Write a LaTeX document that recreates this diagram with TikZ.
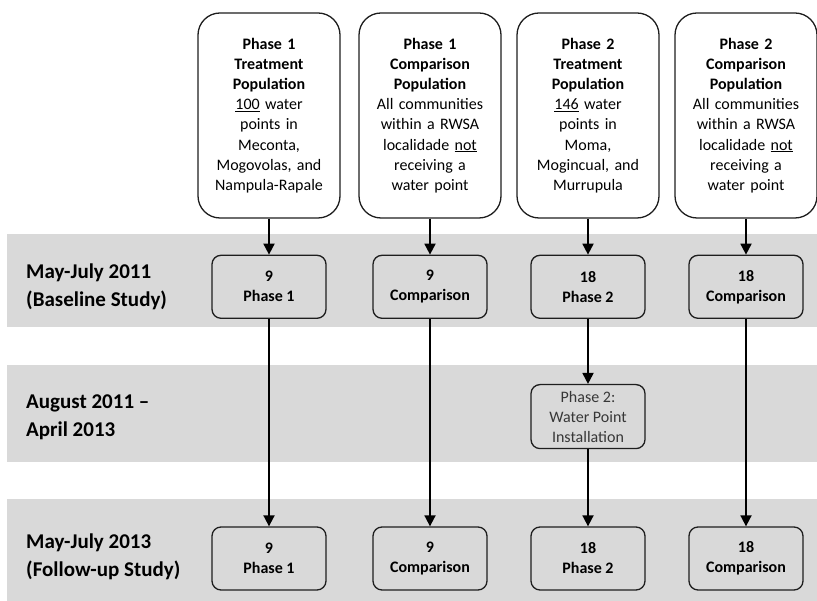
\documentclass[tikz,border=0pt]{standalone}
\usepackage{fontspec}
\setmainfont{Carlito}
\usepackage{tikz}
\usetikzlibrary{shapes,arrows.meta,positioning,calc}
\definecolor{StudyBand}{RGB}{217, 217, 217}
\definecolor{StudyEdge}{RGB}{30, 30, 30}
\definecolor{StudyInk}{RGB}{55, 55, 55}

\begin{document}
\begin{tikzpicture}[x=1pt, y=1pt, node distance=36pt, auto]
  \tikzstyle{popbox} = [rectangle, draw=StudyEdge, fill=white, text width=136pt, align=center, rounded corners=22pt, minimum width=142pt, minimum height=205pt, inner sep=3pt, line width=1.3pt, font=\fontsize{16}{20.2}\selectfont]
  \tikzstyle{countbox} = [rectangle, draw=StudyEdge, fill=StudyBand, align=center, rounded corners=9pt, minimum width=114pt, minimum height=63pt, inner sep=2pt, line width=1.3pt, font=\bfseries\fontsize{16}{20}\selectfont]
  \tikzstyle{stepbox} = [countbox, text=StudyInk, minimum height=64pt, font=\fontsize{16}{20}\selectfont]
  \tikzstyle{period} = [anchor=west, align=left, inner sep=0pt, font=\bfseries\fontsize{21}{28}\selectfont]
  \tikzstyle{line} = [draw=black, -{Triangle[length=11pt,width=11pt]}, line width=1.8pt]

  \useasboundingbox (0,0) rectangle (817,601);
  % time bands
  \fill [StudyBand] (7,274) rectangle (817,367);
  \fill [StudyBand] (7,139) rectangle (817,236);
  \fill [StudyBand] (7,0) rectangle (817,102);

  \node [period] (may11) at (26,314) {May-July 2011\\(Baseline Study)};
  \node [period] (aug11) at (26,184) {August 2011 --\\April 2013};
  \node [period] (may13) at (26,44) {May-July 2013\\(Follow-up Study)};

  % populations
  \node [popbox] (treat1) at (269,485.5) {\textbf{Phase 1}\\\textbf{Treatment}\\\textbf{Population}\\\underline{100} water\\points in\\Meconta,\\Mogovolas, and\\Nampula-Rapale};
  \node [popbox] (comp1) at (430,485.5) {\textbf{Phase 1}\\\textbf{Comparison}\\\textbf{Population}\\All communities\\within a RWSA\\localidade \underline{not}\\receiving a\\water point};
  \node [popbox] (treat2) at (588,485.5) {\textbf{Phase 2}\\\textbf{Treatment}\\\textbf{Population}\\\underline{146} water\\points in\\Moma,\\Mogincual, and\\Murrupula};
  \node [popbox] (comp2) at (746,485.5) {\textbf{Phase 2}\\\textbf{Comparison}\\\textbf{Population}\\All communities\\within a RWSA\\localidade \underline{not}\\receiving a\\water point};

  % baseline study
  \node [countbox, below=of treat1] (base1) {9\\Phase 1};
  \node [countbox, below=of comp1] (base2) {9\\Comparison};
  \node [countbox, below=of treat2] (base3) {18\\Phase 2};
  \node [countbox, below=of comp2] (base4) {18\\Comparison};

  \node [stepbox, below=65pt of base3] (inst3) {Phase 2:\\Water Point\\Installation};

  % follow-up study
  \node [countbox] (follow1) at (269,42.5) {9\\Phase 1};
  \node [countbox] (follow2) at (430,42.5) {9\\Comparison};
  \node [countbox] (follow3) at (588,42.5) {18\\Phase 2};
  \node [countbox] (follow4) at (746,42.5) {18\\Comparison};

  \path [line] (treat1) -- (base1);
  \path [line] (comp1) -- (base2);
  \path [line] (treat2) -- (base3);
  \path [line] (comp2) -- (base4);
  \path [line] (base1) -- (follow1);
  \path [line] (base2) -- (follow2);
  \path [line] (base3) -- (inst3);
  \path [line] (inst3) -- (follow3);
  \path [line] (base4) -- (follow4);
\end{tikzpicture}
\end{document}
